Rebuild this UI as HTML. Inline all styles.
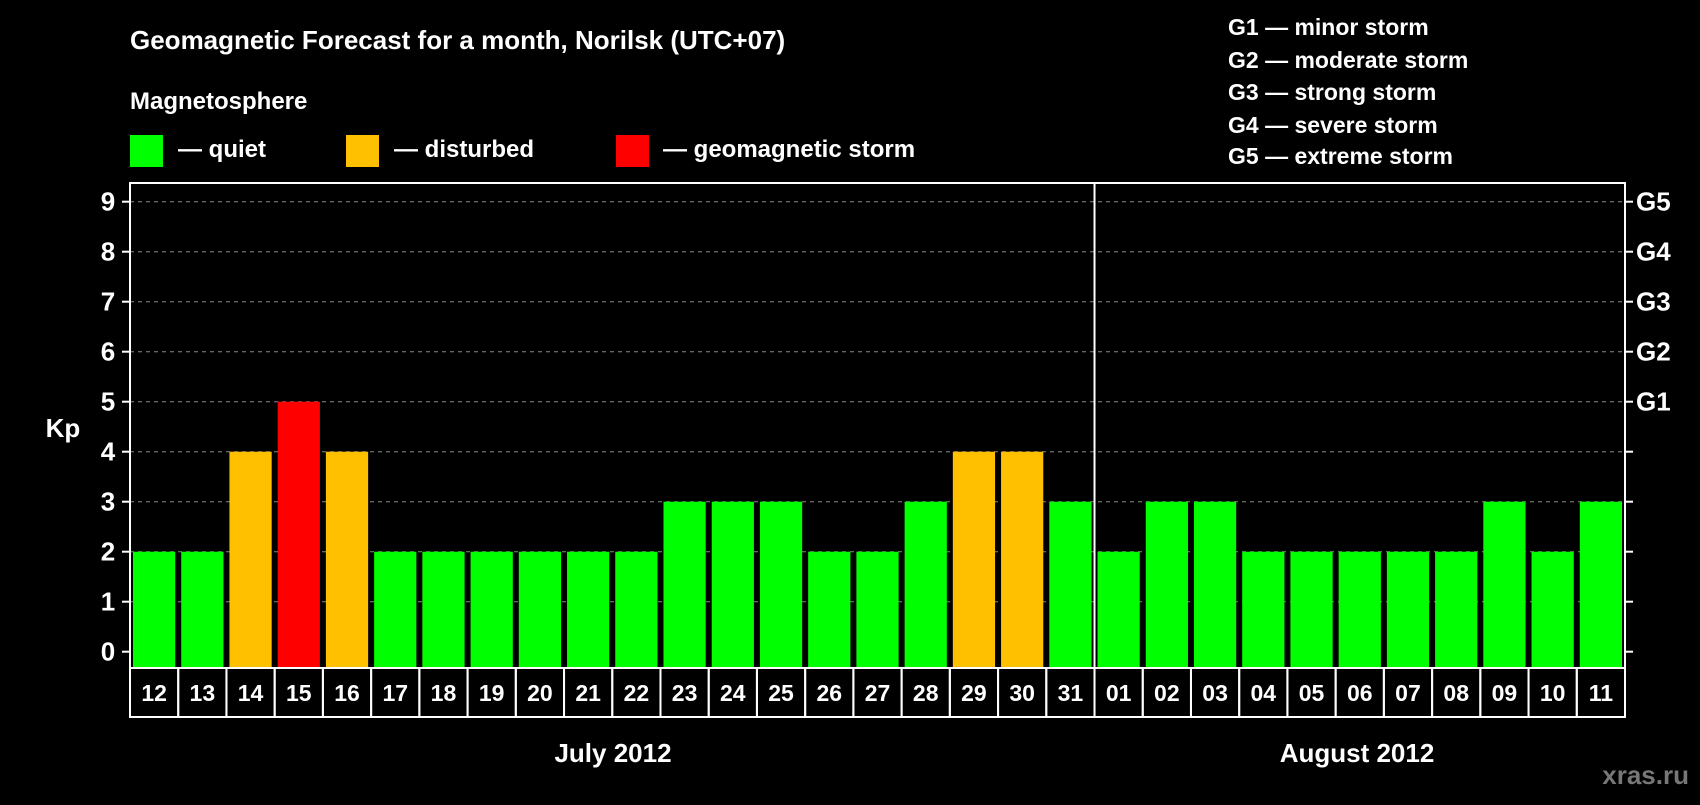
<!DOCTYPE html>
<html><head><meta charset="utf-8"><style>
body{margin:0;background:#000;width:1700px;height:800px;overflow:hidden;font-family:"Liberation Sans",Arial,sans-serif;}
svg text{font-family:"Liberation Sans",Arial,sans-serif;font-weight:bold;fill:#fff}
</style></head><body>
<svg width="1700" height="800">
<text x="130" y="49" font-size="26">Geomagnetic Forecast for a month, Norilsk (UTC+07)</text>
<text x="130" y="109" font-size="24">Magnetosphere</text>
<rect x="130" y="135" width="33" height="32" fill="#00ff00"/>
<text x="178" y="157" font-size="24">— quiet</text>
<rect x="346" y="135" width="33" height="32" fill="#ffc000"/>
<text x="394" y="157" font-size="24">— disturbed</text>
<rect x="616" y="135" width="33" height="32" fill="#ff0000"/>
<text x="663" y="157" font-size="24">— geomagnetic storm</text>
<g font-size="23">
<text x="1228" y="35">G1 — minor storm</text>
<text x="1228" y="68">G2 — moderate storm</text>
<text x="1228" y="100">G3 — strong storm</text>
<text x="1228" y="133">G4 — severe storm</text>
<text x="1228" y="164">G5 — extreme storm</text>
</g>
<g id="plot"></g>
<text x="63" y="437" font-size="26" text-anchor="middle">Kp</text>
<text x="613" y="762" font-size="26" text-anchor="middle">July 2012</text>
<text x="1357" y="762" font-size="26" text-anchor="middle">August 2012</text>
<text x="1689" y="784" font-size="26" text-anchor="end" style="fill:#777">xras.ru</text>
</svg>
<script>
const days=["12","13","14","15","16","17","18","19","20","21","22","23","24","25","26","27","28","29","30","31","01","02","03","04","05","06","07","08","09","10","11"];
const kp=[2,2,4,5,4,2,2,2,2,2,2,3,3,3,2,2,3,4,4,3,2,3,3,2,2,2,2,2,3,2,3];
const yTicks=[0,1,2,3,4,5,6,7,8,9];
const gLabels=["G1","G2","G3","G4","G5"];
const NS="http://www.w3.org/2000/svg";
const g=document.getElementById('plot');
const L=130,R=1625,T=183,B=668;
const slot=(R-L)/days.length;
const y=v=>651.7-v*50;
const x=i=>L+i*slot;
function mk(t,a){const e=document.createElementNS(NS,t);for(const k in a)e.setAttribute(k,a[k]);g.appendChild(e);return e;}
yTicks.forEach(v=>{
  if(v>0){const gl=mk('line',{x1:L,x2:R,y1:y(v),y2:y(v),stroke:'#888','stroke-dasharray':'4,4','stroke-width':1});
  
  }
  const t1=mk('line',{x1:L-8,x2:L,y1:y(v),y2:y(v),stroke:'#fff','stroke-width':2});
  
  
  const t2=mk('line',{x1:R,x2:R+8,y1:y(v),y2:y(v),stroke:'#fff','stroke-width':2});
  
  
  const lb=mk('text',{x:108,y:y(v)+9,'font-size':26,'text-anchor':'middle'});lb.textContent=v;
  
  
});
gLabels.forEach((s,i)=>{const t=mk('text',{x:1636,y:y(5+i)+9,'font-size':26});t.textContent=s;
  
  });
kp.forEach((v,i)=>{
  const c=v>=5?'#ff0000':v>=4?'#ffc000':'#00ff00';
  const b=mk('rect',{x:x(i)+3,y:y(v),width:slot-6,height:B-y(v),fill:c});
  
  
  const cell=mk('rect',{x:x(i),y:B,width:slot,height:49,fill:'none',stroke:'#fff','stroke-width':2});
  
  
  const t=mk('text',{x:x(i)+slot/2,y:B+33,'font-size':23,'text-anchor':'middle'});t.textContent=days[i];
  
  
});
const fr=mk('rect',{x:L,y:T,width:R-L,height:B-T,fill:'none',stroke:'#fff','stroke-width':2});


const sep=mk('line',{x1:x(20),x2:x(20),y1:T,y2:B,stroke:'#fff','stroke-width':2});


</script>
</body></html>
